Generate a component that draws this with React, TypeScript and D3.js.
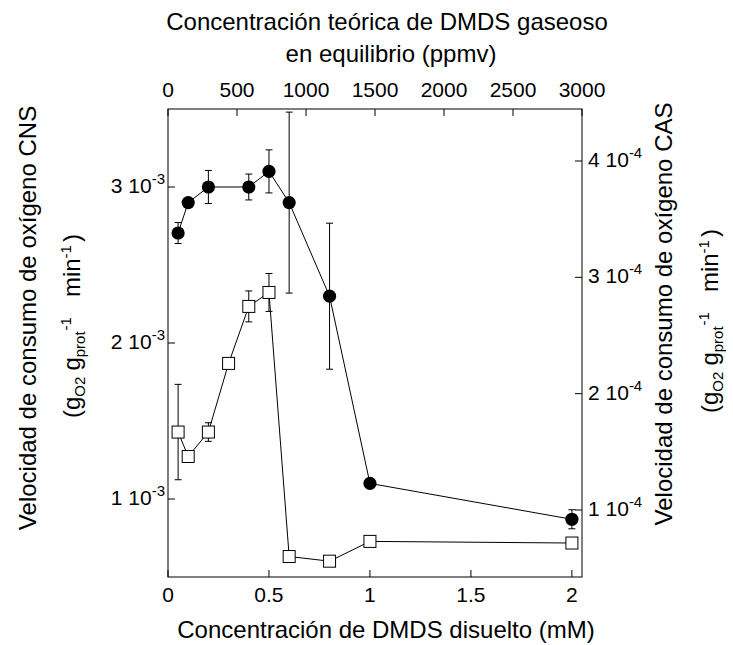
import React from "react";
import * as d3 from "d3";

// ---- data ----
const xCNS = [0.05, 0.1, 0.2, 0.4, 0.5, 0.6, 0.8, 1.0, 2.0];
const yCNS = [2.705e-3, 2.9e-3, 3.0e-3, 3.0e-3, 3.1e-3, 2.9e-3, 2.3e-3, 1.1e-3, 0.87e-3];
const eCNS = [0.067e-3, 0, 0.106e-3, 0.083e-3, 0.138e-3, 0.58e-3, 0.468e-3, 0, 0.061e-3];

const xCAS = [0.05, 0.1, 0.2, 0.3, 0.4, 0.5, 0.6, 0.8, 1.0, 2.0];
const yCAS = [1.67e-4, 1.46e-4, 1.67e-4, 2.26e-4, 2.75e-4, 2.87e-4, 0.6e-4, 0.56e-4, 0.73e-4, 0.716e-4];
const eCAS = [0.41e-4, 0, 0.08e-4, 0, 0.133e-4, 0.163e-4, 0, 0, 0, 0];

const bottomTicks = [0, 0.5, 1, 1.5, 2];
const bottomLabels = ["0", "0.5", "1", "1.5", "2"];
const topTicks = [0, 500, 1000, 1500, 2000, 2500, 3000];
const leftTicks = [1e-3, 2e-3, 3e-3];
const leftMant = ["1", "2", "3"];
const rightTicks = [1e-4, 2e-4, 3e-4, 4e-4];
const rightMant = ["1", "2", "3", "4"];

const FONT = "'Liberation Sans', Arial, sans-serif";

function UnitsLabel({ tx, ty, af, sf }: { tx: number; ty: number; af: number; sf: number }) {
  return (
    <text transform={`translate(${tx},${ty}) rotate(-90)`} fontSize={af} textAnchor="middle">
      <tspan>(g</tspan>
      <tspan fontSize={sf} dy={5}>O2</tspan>
      <tspan dy={-5} dx={6}>g</tspan>
      <tspan fontSize={sf} dy={5}>prot</tspan>
      <tspan fontSize={sf} dy={-14} dx={1}>-1</tspan>
      <tspan dy={9} dx={20}>min</tspan>
      <tspan fontSize={sf} dy={-9}>-1</tspan>
      <tspan dy={9} dx={3}>)</tspan>
    </text>
  );
}

export default function App() {
  const L = 168, R = 582, T = 109, B = 577;
  const x = d3.scaleLinear().domain([0, 2.05]).range([L, R]);
  const xTop = d3.scaleLinear().domain([0, 3000]).range([L, R]);
  const yL = d3.scaleLinear().domain([0.5e-3, 3.5e-3]).range([B, T]);
  const yR = d3.scaleLinear().domain([0.424e-4, 4.447e-4]).range([B, T]);
  const tk = 7;
  const cap = 3.5;

  const cnsPts: [number, number][] = xCNS.map((v, i) => [x(v), yL(yCNS[i])]);
  const casPts: [number, number][] = xCAS.map((v, i) => [x(v), yR(yCAS[i])]);
  const line = d3.line();

  const sq = 12;
  const tf = 21; // tick font
  const sf = 15; // superscript font
  const af = 24; // axis title font

  return (
    <div style={{ position: "absolute", left: 0, top: 0 }}>
      <svg width={733} height={645} style={{ display: "block", background: "#fff" }} fontFamily={FONT}>
        <rect x={0} y={0} width={733} height={645} fill="#fff" />
        {/* frame */}
        <rect x={L} y={T} width={R - L} height={B - T} fill="none" stroke="#000" strokeWidth={1} />

        {/* bottom ticks */}
        {bottomTicks.map((t, i) => (
          <g key={"b" + i}>
            <line x1={x(t)} x2={x(t)} y1={B} y2={B - tk} stroke="#000" />
            <text x={x(t)} y={602} fontSize={tf} textAnchor="middle">{bottomLabels[i]}</text>
          </g>
        ))}
        {/* top ticks */}
        {topTicks.map((t, i) => (
          <g key={"t" + i}>
            <line x1={xTop(t)} x2={xTop(t)} y1={T} y2={T + tk} stroke="#000" />
            <text x={xTop(t)} y={97} fontSize={tf} textAnchor="middle">{String(t)}</text>
          </g>
        ))}
        {/* left ticks */}
        {leftTicks.map((t, i) => (
          <g key={"l" + i}>
            <line x1={L} x2={L + tk} y1={yL(t)} y2={yL(t)} stroke="#000" />
            <text x={165} y={yL(t) + 6} fontSize={tf} textAnchor="end">
              {leftMant[i] + " 10"}
              <tspan fontSize={sf} dy={-9}>-3</tspan>
            </text>
          </g>
        ))}
        {/* right ticks */}
        {rightTicks.map((t, i) => (
          <g key={"r" + i}>
            <line x1={R} x2={R - tk} y1={yR(t)} y2={yR(t)} stroke="#000" />
            <text x={588} y={yR(t) + 6} fontSize={tf} textAnchor="start">
              {rightMant[i] + " 10"}
              <tspan fontSize={sf} dy={-9}>-4</tspan>
            </text>
          </g>
        ))}

        {/* lines */}
        <path d={line(casPts) || ""} fill="none" stroke="#000" strokeWidth={1} />
        <path d={line(cnsPts) || ""} fill="none" stroke="#000" strokeWidth={1} />

        {/* error bars */}
        {xCAS.map((v, i) =>
          eCAS[i] > 0 ? (
            <g key={"ea" + i} stroke="#000" strokeWidth={1}>
              <line x1={x(v)} x2={x(v)} y1={yR(yCAS[i] + eCAS[i])} y2={yR(yCAS[i] - eCAS[i])} />
              <line x1={x(v) - cap} x2={x(v) + cap} y1={yR(yCAS[i] + eCAS[i])} y2={yR(yCAS[i] + eCAS[i])} />
              <line x1={x(v) - cap} x2={x(v) + cap} y1={yR(yCAS[i] - eCAS[i])} y2={yR(yCAS[i] - eCAS[i])} />
            </g>
          ) : null
        )}
        {xCNS.map((v, i) =>
          eCNS[i] > 0 ? (
            <g key={"en" + i} stroke="#000" strokeWidth={1}>
              <line x1={x(v)} x2={x(v)} y1={yL(yCNS[i] + eCNS[i])} y2={yL(yCNS[i] - eCNS[i])} />
              <line x1={x(v) - cap} x2={x(v) + cap} y1={yL(yCNS[i] + eCNS[i])} y2={yL(yCNS[i] + eCNS[i])} />
              <line x1={x(v) - cap} x2={x(v) + cap} y1={yL(yCNS[i] - eCNS[i])} y2={yL(yCNS[i] - eCNS[i])} />
            </g>
          ) : null
        )}

        {/* markers */}
        {casPts.map((p, i) => (
          <rect key={"sq" + i} x={p[0] - sq / 2} y={p[1] - sq / 2} width={sq} height={sq} fill="#fff" stroke="#000" strokeWidth={1} />
        ))}
        {cnsPts.map((p, i) => (
          <circle key={"c" + i} cx={p[0]} cy={p[1]} r={6.6} fill="#000" />
        ))}

        {/* top title */}
        <text x={387} y={30} fontSize={af} textAnchor="middle">Concentración teórica de DMDS gaseoso</text>
        <text x={391} y={62} fontSize={af} textAnchor="middle">en equilibrio (ppmv)</text>

        {/* bottom title */}
        <text x={386} y={638} fontSize={af} textAnchor="middle">Concentración de DMDS disuelto (mM)</text>

        {/* left title */}
        <text transform="translate(36,318) rotate(-90)" fontSize={af} textAnchor="middle">
          Velocidad de consumo de oxígeno CNS
        </text>
        <UnitsLabel tx={80} ty={326} af={af} sf={sf} />

        {/* right title */}
        <text transform="translate(672,314) rotate(-90)" fontSize={af} textAnchor="middle">
          Velocidad de consumo de oxígeno CAS
        </text>
        <UnitsLabel tx={718} ty={321} af={af} sf={sf} />
      </svg>
    </div>
  );
}
